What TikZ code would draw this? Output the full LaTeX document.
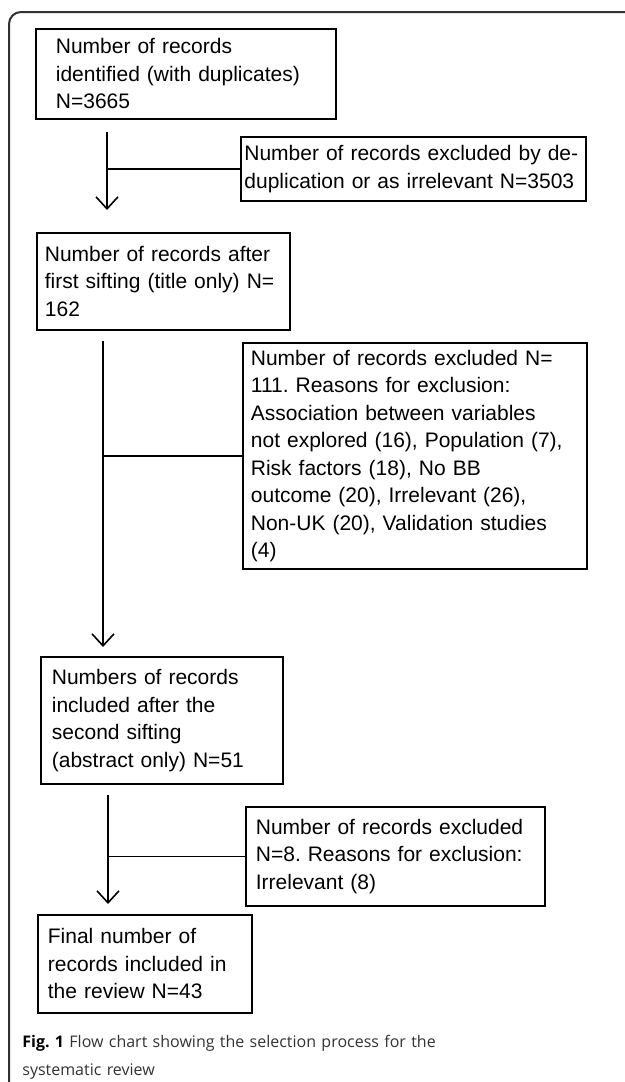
\documentclass[tikz,border=0pt]{standalone}
\usepackage{fontspec}
\setmainfont{Liberation Sans}
\newfontfamily\capfont{Open Sans}
\usepackage{tikz}
\usetikzlibrary{arrows.meta}
\frenchspacing

\begin{document}
\begin{tikzpicture}[
    x=0.5pt, y=-0.5pt,
    >={Straight Barb[length=6pt,width=11pt]},
    box/.style={rectangle, draw, line width=0.9pt, anchor=north west, align=left, inner ysep=0pt, font=\fontsize{10.5}{13.75}\selectfont},
    link/.style={line width=0.8pt},
    frame/.style={line width=1pt, black!80, rounded corners=6pt},
    caption/.style={anchor=north west, align=left, inner sep=0pt, text width=300pt, font=\capfont\fontsize{8}{14}\selectfont, text=black!80}
]
\useasboundingbox (0,0) rectangle (625,1082);

% Outer frame
\draw[frame] (625,12) -- (9,12) -- (9,1082);

% === Records kept (left column) ===
\node[box, text width=130pt, inner xsep=10pt, minimum height=45pt] (ident) at (35,28) {Number of records\\identified (with duplicates)\\N=3665};
\node[box, text width=118.5pt, inner xsep=4pt, minimum height=48.5pt] (first) at (36,232) {Number of records after\\first sifting (title only) N=\\162};
\node[box, text width=110pt, inner xsep=5.5pt, minimum height=63.5pt] (second) at (40,656) {Numbers of records\\included after the\\second sifting\\(abstract only) N=51};
\node[box, text width=97pt, inner xsep=5pt, minimum height=49pt] (final) at (37,914) {Final number of\\records included in\\the review N=43};

% === Records excluded (right column) ===
\node[box, text width=169pt, inner xsep=1.75pt, minimum height=32pt] (excl1) at (240,136) {Number of records excluded by de-\\duplication or as irrelevant N=3503};
\node[box, text width=164pt, inner xsep=4pt, minimum height=113pt] (excl2) at (242,342) {Number of records excluded N=\\111. Reasons for exclusion:\\Association between variables\\not explored (16), Population (7),\\Risk factors (18), No BB\\outcome (20), Irrelevant (26),\\Non-UK (20), Validation studies\\(4)};
\node[box, text width=139.5pt, inner xsep=5pt, minimum height=49.5pt] (excl3) at (245,806) {Number of records excluded\\N=8. Reasons for exclusion:\\Irrelevant (8)};

% Flow lines
\coordinate (v1) at (107,0);
\coordinate (v2) at (103,0);
\coordinate (v3) at (108,0);

\draw[link, ->, shorten <=6pt, shorten >=11pt] (v1 |- ident.south) -- (v1 |- first.north);
\draw[link] (v1 |- excl1.west) -- (excl1.west);

\draw[link, ->, shorten <=5pt, shorten >=4.5pt] (v2 |- first.south) -- (v2 |- second.north);
\draw[link] (v2 |- excl2.west) -- (excl2.west);

\draw[link, ->, shorten <=5pt, shorten >=5pt] (v3 |- second.south) -- (v3 |- final.north);
\draw[link] (v3 |- excl3.west) -- (excl3.west);

% Caption
\node[caption] (cap) at (22,1035) {{\bfseries\color{black}Fig. 1} Flow chart showing the selection process for the\\systematic review};
\end{tikzpicture}
\end{document}
